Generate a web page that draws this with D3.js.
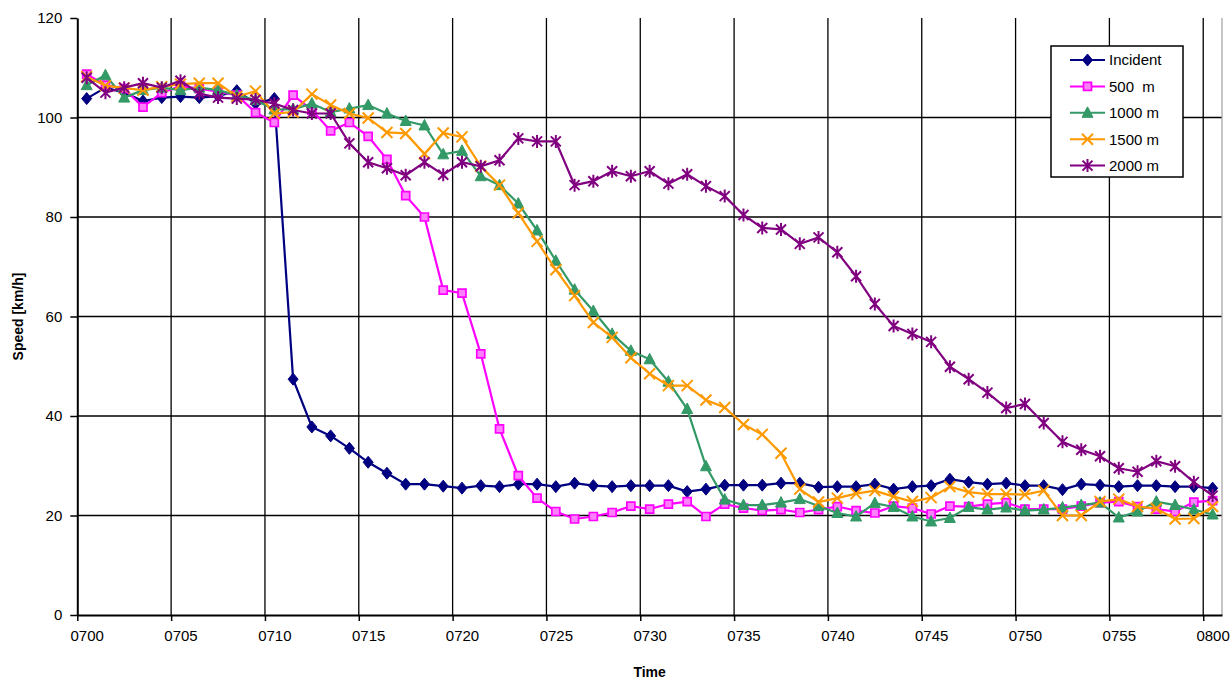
<!DOCTYPE html>
<html>
<head>
<meta charset="utf-8">
<script src="https://cdn.jsdelivr.net/npm/d3@7/dist/d3.min.js"></script>
<style>
  body { margin: 0; background: #fff; }
  text { font-family: Arial, "Liberation Sans", sans-serif; }
</style>
</head>
<body>
<div id="chart-area"></div>
<script>
// DATA

let times = [
  '0700','0701','0702','0703','0704','0705','0706','0707','0708','0709',
  '0710','0711','0712','0713','0714','0715','0716','0717','0718','0719',
  '0720','0721','0722','0723','0724','0725','0726','0727','0728','0729',
  '0730','0731','0732','0733','0734','0735','0736','0737','0738','0739',
  '0740','0741','0742','0743','0744','0745','0746','0747','0748','0749',
  '0750','0751','0752','0753','0754','0755','0756','0757','0758','0759',
  '0800'
]

let tickLabels = ['0700','0705','0710','0715','0720','0725','0730','0735','0740','0745','0750','0755','0800']
let yTicks = [0, 20, 40, 60, 80, 100, 120]

let incident = [
  103.8, 106.0, 105.0, 103.3, 104.0, 104.2, 104.0, 104.3, 105.4, 102.8,
  103.8, 47.4, 37.8, 36.0, 33.5, 30.7, 28.5, 26.3, 26.3, 25.9,
  25.5, 26.0, 25.8, 26.3, 26.3, 25.8, 26.5, 26.0, 25.8, 26.0,
  26.0, 26.0, 24.8, 25.3, 26.1, 26.1, 26.1, 26.5, 26.5, 25.7,
  25.8, 25.8, 26.3, 25.3, 25.8, 26.0, 27.3, 26.7, 26.3, 26.5,
  26.0, 26.0, 25.2, 26.3, 26.1, 25.8, 26.0, 26.0, 25.8, 25.8,
  25.5
]

let m500 = [
  108.7, 106.5, 105.8, 102.1, 105.0, 106.3, 105.8, 105.2, 104.5, 101.0,
  99.0, 104.5, 101.5, 97.3, 99.0, 96.2, 91.6, 84.3, 80.0, 65.3,
  64.7, 52.5, 37.4, 28.0, 23.5, 20.8, 19.3, 19.8, 20.6, 21.9,
  21.3, 22.3, 22.8, 19.8, 22.3, 21.5, 21.0, 21.2, 20.6, 21.2,
  21.8, 21.0, 20.5, 21.9, 21.5, 20.3, 21.9, 21.8, 22.3, 22.6,
  21.3, 21.3, 21.3, 21.9, 22.6, 22.8, 21.8, 21.3, 20.8, 22.7,
  23.0
]

let m1000 = [
  106.5, 108.5, 104.0, 105.5, 106.0, 105.5, 106.0, 105.5, 104.5, 103.5,
  101.6, 101.7, 102.8, 101.1, 101.8, 102.5, 100.8, 99.3, 98.4, 92.6,
  93.3, 88.2, 86.4, 82.7, 77.3, 71.2, 65.4, 61.1, 56.5, 53.1,
  51.4, 46.9, 41.4, 29.9, 23.2, 22.1, 22.1, 22.6, 23.3, 21.9,
  20.5, 19.8, 22.5, 21.7, 19.8, 18.8, 19.5, 21.7, 21.2, 21.6,
  21.0, 21.2, 21.6, 22.1, 22.6, 19.6, 20.8, 22.8, 22.1, 21.2,
  20.2
]

let m1500 = [
  108.2, 106.4, 105.9, 105.5, 106.2, 106.7, 106.9, 106.9, 104.2, 105.3,
  100.8, 101.1, 104.7, 102.5, 100.8, 99.9, 97.0, 96.8, 92.7, 96.9,
  96.1, 90.2, 86.4, 80.8, 75.1, 69.4, 64.2, 58.8, 55.8, 51.7,
  48.5, 46.1, 46.1, 43.2, 41.7, 38.3, 36.3, 32.5, 25.3, 22.7,
  23.5, 24.4, 25.0, 23.8, 22.8, 23.6, 25.8, 24.7, 24.3, 24.3,
  24.2, 25.0, 20.0, 20.0, 22.8, 23.3, 21.8, 21.4, 19.3, 19.4,
  21.8
]

let m2000 = [
  108.0, 105.0, 106.0, 106.9, 106.0, 107.4, 104.8, 104.0, 103.8, 103.6,
  102.8, 101.5, 100.8, 100.8, 94.8, 91.0, 89.8, 88.4, 91.0, 88.5,
  91.0, 90.2, 91.4, 95.8, 95.2, 95.2, 86.4, 87.2, 89.2, 88.2,
  89.2, 86.7, 88.6, 86.2, 84.2, 80.4, 77.8, 77.5, 74.6, 75.9,
  72.9, 68.1, 62.5, 58.1, 56.5, 54.9, 49.9, 47.4, 44.7, 41.6,
  42.4, 38.6, 34.8, 33.2, 31.9, 29.5, 28.8, 30.9, 29.9, 26.7,
  24.0
]

let seriesNames = ['Incident', '500  m', '1000 m', '1500 m', '2000 m']
let seriesColors = ['#000080', '#ff00ff', '#339966', '#ff9900', '#800080']
let seriesMarkers = ['diamond', 'square', 'triangle', 'x', 'star']

let series = [incident, m500, m1000, m1500, m2000].map((values, k) => {
  return { name: seriesNames[k], color: seriesColors[k], marker: seriesMarkers[k], values: values }
})

// LAYOUT

let width = 1232
let height = 680
let plot = { left: 77.3, right: 1222, top: 18, bottom: 615 }

let svg = d3.select('#chart-area').append('svg')
  .attr('width', width)
  .attr('height', height)

let x = d3.scaleLinear()
  .domain([0, times.length])
  .range([plot.left, plot.right])

let y = d3.scaleLinear()
  .domain([0, 120])
  .range([plot.bottom, plot.top])

let band = x(1) - x(0)
let px = (i) => x(i + 0.5)

// GRID

let grid = svg.append('g').attr('class', 'grid')

grid.selectAll('line.h')
  .data(yTicks.filter(v => v > 0 && v < 120))
  .enter().append('line')
    .attr('class', 'h')
    .attr('x1', plot.left).attr('x2', plot.right)
    .attr('y1', d => y(d)).attr('y2', d => y(d))
    .attr('stroke', '#000').attr('stroke-width', 1.3)

grid.selectAll('line.v')
  .data(tickLabels.slice(1))
  .enter().append('line')
    .attr('class', 'v')
    .attr('x1', d => x(times.indexOf(d))).attr('x2', d => x(times.indexOf(d)))
    .attr('y1', plot.top).attr('y2', plot.bottom)
    .attr('stroke', '#000').attr('stroke-width', 1.3)

// right border of plot area
svg.append('line')
  .attr('x1', plot.right).attr('x2', plot.right)
  .attr('y1', plot.top).attr('y2', plot.bottom)
  .attr('stroke', '#a0a0a0').attr('stroke-width', 1.2)

// AXES

let xAxisCall = d3.axisBottom(x)
  .tickValues(tickLabels.map(t => times.indexOf(t)))
  .tickFormat(i => times[i])
  .tickSize(6)
  .tickSizeOuter(0)

let xAxisGroup = svg.append('g')
  .attr('class', 'x-axis')
  .attr('transform', 'translate(0, ' + plot.bottom + ')')
  .call(xAxisCall)

xAxisGroup.select('.domain').attr('stroke-width', 2)
xAxisGroup.selectAll('.tick line').attr('stroke-width', 1.5)
xAxisGroup.selectAll('.tick text')
  .attr('x', band / 2)
  .attr('dy', '1.1em')
  .attr('font-size', 15)
  .attr('fill', '#000')

let yAxisCall = d3.axisLeft(y)
  .tickValues(yTicks)
  .tickSize(7)
  .tickSizeOuter(0)

let yAxisGroup = svg.append('g')
  .attr('class', 'y-axis')
  .attr('transform', 'translate(' + plot.left + ', 0)')
  .call(yAxisCall)

yAxisGroup.select('.domain').attr('stroke-width', 2)
yAxisGroup.selectAll('.tick line').attr('stroke-width', 1.5)
yAxisGroup.selectAll('.tick text')
  .attr('x', -15)
  .attr('font-size', 15)
  .attr('fill', '#000')

svg.append('text')
  .attr('x', (plot.left + plot.right) / 2)
  .attr('y', 677)
  .attr('text-anchor', 'middle')
  .attr('font-size', 14)
  .attr('font-weight', 'bold')
  .text('Time')

svg.append('text')
  .attr('transform', 'translate(23, ' + ((plot.top + plot.bottom) / 2) + ') rotate(-90)')
  .attr('text-anchor', 'middle')
  .attr('font-size', 14)
  .attr('font-weight', 'bold')
  .text('Speed [km/h]')

// MARKERS

const markerPath = (type) => {
  if (type === 'diamond') return 'M0,-6L5,0L0,6L-5,0Z'
  if (type === 'square') return 'M-4,-4H4V4H-4Z'
  if (type === 'triangle') return 'M0,-6L5.5,4.5L-5.5,4.5Z'
  if (type === 'x') return 'M-5.5,-5.5L5.5,5.5M-5.5,5.5L5.5,-5.5'
  return 'M-5,-5L5,5M-5,5L5,-5M0,-6.5V6.5'
}

const drawMarker = (sel, s) => {
  let filled = s.marker === 'diamond' || s.marker === 'triangle'
  sel.attr('d', markerPath(s.marker))
    .attr('fill', filled ? s.color : (s.marker === 'square' ? '#ff80ff' : 'none'))
    .attr('stroke', s.color)
    .attr('stroke-width', s.marker === 'square' ? 1.7 : (filled ? 1 : 2))
}

// LINES

let line = d3.line()
  .x((d, i) => px(i))
  .y(d => y(d))

let seriesGroups = svg.selectAll('g.series')
  .data(series)
  .enter().append('g')
    .attr('class', 'series')

seriesGroups.append('path')
  .attr('d', s => line(s.values))
  .attr('fill', 'none')
  .attr('stroke', s => s.color)
  .attr('stroke-width', 2.2)

seriesGroups.each(function (s) {
  d3.select(this).selectAll('path.marker')
    .data(s.values)
    .enter().append('path')
      .attr('class', 'marker')
      .attr('transform', (d, i) => 'translate(' + px(i) + ',' + y(d) + ')')
      .call(drawMarker, s)
})

// LEGEND

let legend = svg.append('g')
  .attr('class', 'legend')
  .attr('transform', 'translate(1051, 46)')

legend.append('rect')
  .attr('width', 132)
  .attr('height', 131)
  .attr('fill', '#fff')
  .attr('stroke', '#000')
  .attr('stroke-width', 1.5)

let items = legend.selectAll('g.item')
  .data(series)
  .enter().append('g')
    .attr('class', 'item')
    .attr('transform', (s, k) => 'translate(0, ' + (14 + k * 26.4) + ')')

items.append('line')
  .attr('x1', 19).attr('x2', 54)
  .attr('stroke', s => s.color)
  .attr('stroke-width', 2)

items.append('path')
  .attr('transform', 'translate(36.5, 0)')
  .each(function (s) { d3.select(this).call(drawMarker, s) })

items.append('text')
  .attr('x', 58)
  .attr('dy', '0.36em')
  .attr('font-size', 15)
  .attr('xml:space', 'preserve')
  .style('white-space', 'pre')
  .text(s => s.name)
</script>
</body>
</html>
